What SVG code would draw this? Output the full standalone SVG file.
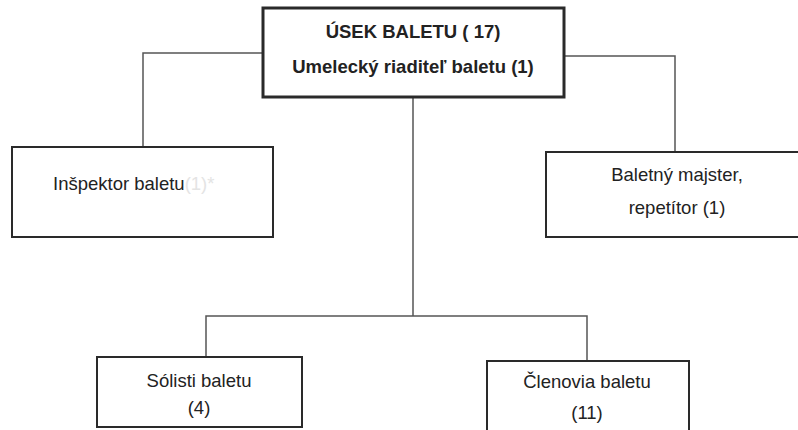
<svg xmlns="http://www.w3.org/2000/svg" width="798" height="430" viewBox="0 0 798 430">
<style>
.box{fill:#fff;stroke:#2a2a2a;stroke-width:2}
.top{stroke-width:3}
.t{font-family:"Liberation Sans",Arial,sans-serif;font-size:18.5px;fill:#222;text-anchor:middle}
.b{font-weight:bold;font-size:18.5px}
.c{fill:none;stroke:#555;stroke-width:1.5}
</style>
<rect width="798" height="430" fill="#fff"/>
<g id="connectors">
<path class="c" d="M263 53 H143 V147"/>
<path class="c" d="M564 56 H675 V152"/>
<path class="c" d="M413 97 V316"/>
<path class="c" d="M206 357 V316 H587 V361"/>
</g>
<g id="n-usek">
<rect class="box top" x="263" y="8" width="301" height="89"/>
<text class="t b" x="413" y="38">ÚSEK BALETU ( 17)</text>
<text class="t b" x="413" y="73">Umelecký riaditeľ baletu (1)</text>
</g>
<g id="n-inspektor">
<rect class="box" x="12" y="147" width="261" height="90"/>
<text class="t" x="53" y="190" style="text-anchor:start">Inšpektor baletu<tspan fill="#e4e4e4">(1)*</tspan></text>
</g>
<g id="n-majster">
<rect class="box" x="546" y="152" width="260" height="85"/>
<text class="t" x="677" y="181">Baletný majster,</text>
<text class="t" x="677" y="214">repetítor (1)</text>
</g>
<g id="n-solisti">
<rect class="box" x="97" y="357" width="205" height="70"/>
<text class="t" x="199" y="387">Sólisti baletu</text>
<text class="t" x="199" y="414">(4)</text>
</g>
<g id="n-clenovia">
<rect class="box" x="487" y="361" width="202" height="80"/>
<text class="t" x="587" y="388">Členovia baletu</text>
<text class="t" x="587" y="419">(11)</text>
</g>
</svg>
